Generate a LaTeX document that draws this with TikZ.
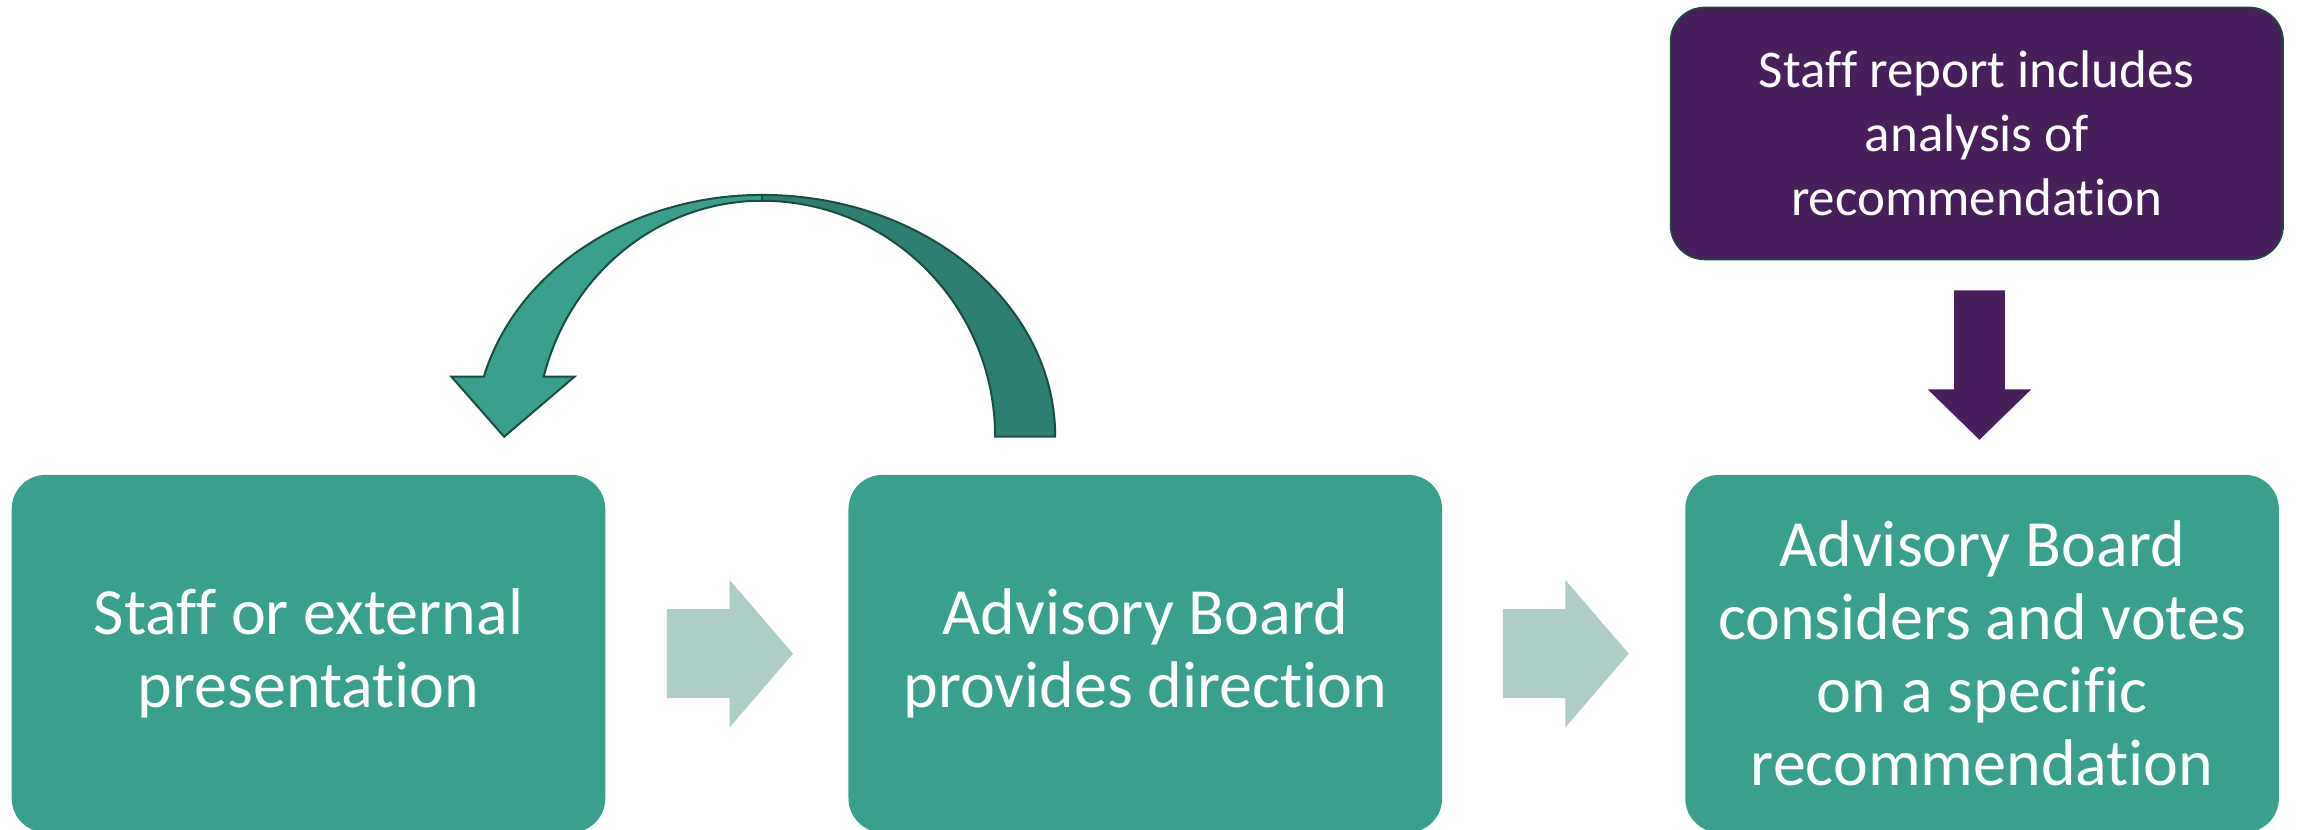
\documentclass[tikz,border=0pt]{standalone}
\usepackage{fontspec}
\setmainfont{Carlito}[RawFeature={-liga,-clig,-calt,-rlig}]
\usetikzlibrary{shapes.arrows,calc}

\definecolor{boxteal}{HTML}{3AA08E}
\definecolor{backband}{HTML}{2D8071}
\definecolor{bandline}{HTML}{1A4C40}
\definecolor{paleteal}{HTML}{AECDC6}
\definecolor{reportpurple}{HTML}{461F5C}

\tikzstyle{stage} = [rectangle, rounded corners=17pt, fill=boxteal, text=white, align=center, minimum width=296.8pt, minimum height=178.8pt, font=\fontsize{33}{36.5}\selectfont]
\tikzstyle{analysis} = [rectangle, rounded corners=17pt, fill=reportpurple, draw=bandline, line width=0.8pt, text=white, align=center, minimum width=306.3pt, minimum height=126pt, font=\fontsize{26.5}{32}\selectfont]
\tikzstyle{flow} = [single arrow, fill=paleteal, inner xsep=0pt, inner ysep=22pt, single arrow head extend=14.65pt, single arrow tip angle=98.6, minimum height=63pt]
\tikzstyle{flowdown} = [single arrow, fill=reportpurple, rotate=-90, inner xsep=0pt, inner ysep=12.5pt, single arrow head extend=13.15pt, single arrow tip angle=91.5, minimum height=74.7pt]
\tikzstyle{loopband} = [draw=bandline, line width=1pt, line join=miter]

\begin{document}
\begin{tikzpicture}[x=0.7328pt, y=0.7328pt, node distance=418.4pt]
\useasboundingbox (0,0) rectangle (1568,566);

% Nodes
\node (present) [stage] at (210.5,120) {Staff or external\\presentation};
\node (direct) [stage, right of=present] {Advisory Board\\provides direction};
\node (vote) [stage, right of=direct] {Advisory Board\\considers and votes\\on a specific\\recommendation};
\node (report) [analysis, above of=vote, yshift=-158.3pt, xshift=-2.6pt] {Staff report includes\\analysis of\\recommendation};

% Arrows
\node (step1) [flow, xshift=-8pt] at ($(present.east)!0.5!(direct.west)$) {};
\node (step2) [flow, xshift=-8.5pt] at ($(direct.east)!0.5!(vote.west)$) {};
\node (feed) [flowdown] at ($(report.south)!0.5!(vote.north)+(0,10)$) {};

% back loop from direction to presentation
\draw [loopband, fill=backband] (720,268) arc[start angle=0, end angle=90, x radius=200, y radius=165]
  -- (520,429) arc[start angle=90, end angle=0, x radius=159, y radius=161] -- cycle;
\draw [loopband, fill=boxteal] (520,433) arc[start angle=90, end angle=165.6, x radius=196, y radius=165]
  -- (308,309) -- (344,268) -- (392,309) -- (371,309)
  arc[start angle=165.25, end angle=90, x radius=154, y radius=161] -- cycle;

\end{tikzpicture}
\end{document}
